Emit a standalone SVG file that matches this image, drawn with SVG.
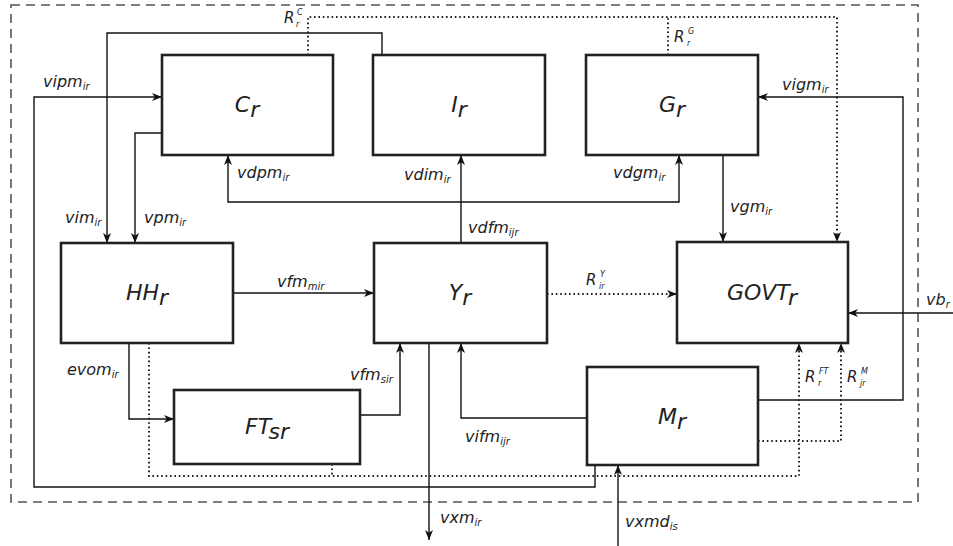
<svg xmlns="http://www.w3.org/2000/svg" width="953" height="546" viewBox="0 0 953 546">
<style>
.bg{fill:#fff}
.frame{fill:none;stroke:#555;stroke-width:1.6;stroke-dasharray:9,6}
.box rect{fill:#fff;stroke:#222;stroke-width:2.6}
.box text{font-family:"DejaVu Sans",sans-serif;font-style:oblique;font-size:22px;fill:#222;text-anchor:middle}
.ln{fill:none;stroke:#111;stroke-width:1.4}
.dt{fill:none;stroke:#222;stroke-width:2;stroke-dasharray:1.6,2.8}
.lb{font-family:"DejaVu Sans",sans-serif;font-style:oblique;font-size:16px;fill:#222}
.sb{font-size:10px}
.rl{font-family:"DejaVu Sans",sans-serif;font-style:oblique;font-size:15px;fill:#222}
.rs{font-family:"DejaVu Sans",sans-serif;font-style:oblique;font-size:8px;fill:#222}
</style>
<defs>
<marker id="ah" viewBox="0 0 10 8" refX="10" refY="4" markerWidth="10" markerHeight="8" markerUnits="userSpaceOnUse" orient="auto">
<path d="M10,4 L0,0 L2.8,4 L0,8 Z" fill="#111"/>
</marker>
</defs>
<rect class="bg" x="0" y="0" width="953" height="546"/>
<rect class="frame" x="11" y="5" width="907" height="497"/>

<g id="connectors">
<path class="ln" d="M382,55 V33 H107 V243" marker-end="url(#ah)"/>
<path class="ln" d="M162,133 H135 V243" marker-end="url(#ah)"/>
<path class="ln" d="M595,465 V487 H34 V97 H162" marker-end="url(#ah)"/>
<path class="ln" d="M461,243 V155" marker-end="url(#ah)"/>
<path class="ln" d="M461,202 H228 V155" marker-end="url(#ah)"/>
<path class="ln" d="M461,202 H679 V155" marker-end="url(#ah)"/>
<path class="ln" d="M723,155 V242" marker-end="url(#ah)"/>
<path class="dt" d="M308,55 V17 H837 V242" marker-end="url(#ah)"/>
<path class="dt" d="M668,55 V17"/>
<path class="ln" d="M758,400 H903 V97 H758" marker-end="url(#ah)"/>
<path class="ln" d="M953,313 H848" marker-end="url(#ah)"/>
<path class="ln" d="M233,293 H374" marker-end="url(#ah)"/>
<path class="dt" d="M547,294 H677" marker-end="url(#ah)"/>
<path class="ln" d="M129,343 V419 H174" marker-end="url(#ah)"/>
<path class="ln" d="M360,415 H400 V343" marker-end="url(#ah)"/>
<path class="ln" d="M429,343 V540" marker-end="url(#ah)"/>
<path class="ln" d="M587,418 H461 V343" marker-end="url(#ah)"/>
<path class="ln" d="M618,546 V465" marker-end="url(#ah)"/>
<path class="dt" d="M149,343 V476 H799 V343" marker-end="url(#ah)"/>
<path class="dt" d="M332,464 V476"/>
<path class="dt" d="M758,441 H841 V343" marker-end="url(#ah)"/>
</g>

<g id="C"><g class="box"><rect x="162" y="55" width="171" height="100"/><text x="247" y="112">C<tspan dy="5">r</tspan></text></g></g>
<g id="I"><g class="box"><rect x="373" y="55" width="172" height="100"/><text x="459" y="112">I<tspan dy="5">r</tspan></text></g></g>
<g id="G"><g class="box"><rect x="586" y="55" width="172" height="100"/><text x="672" y="112">G<tspan dy="5">r</tspan></text></g></g>
<g id="HH"><g class="box"><rect x="61" y="243" width="172" height="100"/><text x="147" y="300">HH<tspan dy="5">r</tspan></text></g></g>
<g id="Y"><g class="box"><rect x="374" y="243" width="173" height="100"/><text x="460" y="300">Y<tspan dy="5">r</tspan></text></g></g>
<g id="GOVT"><g class="box"><rect x="677" y="242" width="171" height="101"/><text x="762" y="300">GOVT<tspan dy="5">r</tspan></text></g></g>
<g id="FT"><g class="box"><rect x="174" y="390" width="186" height="74"/><text x="267" y="434">FT<tspan dy="5">sr</tspan></text></g></g>
<g id="M"><g class="box"><rect x="587" y="367" width="171" height="98"/><text x="672" y="424">M<tspan dy="5">r</tspan></text></g></g>

<g id="labels">
<text class="lb" x="43" y="87">vipm<tspan class="sb" dy="3">ir</tspan></text>
<text class="lb" x="65" y="223">vim<tspan class="sb" dy="3">ir</tspan></text>
<text class="lb" x="144" y="223">vpm<tspan class="sb" dy="3">ir</tspan></text>
<text class="lb" x="237" y="178">vdpm<tspan class="sb" dy="3">ir</tspan></text>
<text class="lb" x="404" y="180">vdim<tspan class="sb" dy="3">ir</tspan></text>
<text class="lb" x="468" y="233">vdfm<tspan class="sb" dy="3">ijr</tspan></text>
<text class="lb" x="613" y="178">vdgm<tspan class="sb" dy="3">ir</tspan></text>
<text class="lb" x="730" y="212">vgm<tspan class="sb" dy="3">ir</tspan></text>
<text class="lb" x="782" y="90">vigm<tspan class="sb" dy="3">ir</tspan></text>
<text class="lb" x="926" y="305">vb<tspan class="sb" dy="3">r</tspan></text>
<text class="lb" x="277" y="287">vfm<tspan class="sb" dy="3">mir</tspan></text>
<text class="lb" x="67" y="375">evom<tspan class="sb" dy="3">ir</tspan></text>
<text class="lb" x="350" y="380">vfm<tspan class="sb" dy="3">sir</tspan></text>
<text class="lb" x="440" y="523">vxm<tspan class="sb" dy="3">ir</tspan></text>
<text class="lb" x="465" y="442">vifm<tspan class="sb" dy="3">ijr</tspan></text>
<text class="lb" x="625" y="527">vxmd<tspan class="sb" dy="3">is</tspan></text>
<text class="rl" x="284" y="23">R</text><text class="rs" x="297" y="15">C</text><text class="rs" x="296" y="27">r</text>
<text class="rl" x="674" y="42">R</text><text class="rs" x="688" y="34">G</text><text class="rs" x="687" y="46">r</text>
<text class="rl" x="586" y="285">R</text><text class="rs" x="600" y="277">Y</text><text class="rs" x="599" y="289">ir</text>
<text class="rl" x="805" y="382">R</text><text class="rs" x="819" y="374">FT</text><text class="rs" x="818" y="386">r</text>
<text class="rl" x="847" y="382">R</text><text class="rs" x="861" y="374">M</text><text class="rs" x="860" y="386">jr</text>
</g>
</svg>
